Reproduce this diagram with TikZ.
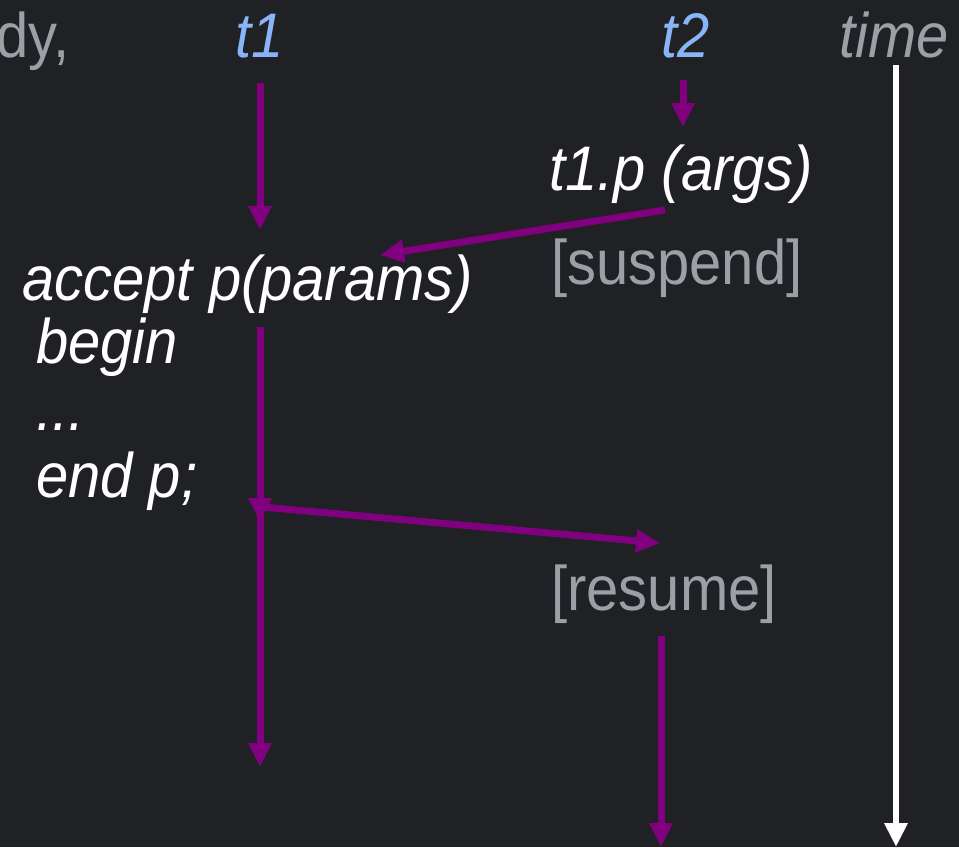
\documentclass[tikz,border=0pt]{standalone}
\usepackage{fontspec}
\setmainfont{Liberation Sans}[FakeStretch=0.92]
\usetikzlibrary{arrows.meta}
\definecolor{bgdark}{HTML}{202124}
\definecolor{softgray}{HTML}{9AA0A6}
\definecolor{threadblue}{HTML}{8AB4F8}
\definecolor{flowpurple}{HTML}{800080}
\tikzset{
  lbl/.style={inner sep=0pt, font=\fontsize{63}{66}\selectfont},
  code/.style={lbl, text=white, font=\fontsize{63}{66}\selectfont\itshape},
  thread/.style={lbl, text=threadblue, font=\fontsize{63}{66}\selectfont\itshape},
  note/.style={lbl, text=softgray},
  flow/.style={draw=flowpurple, line width=7pt, -{Triangle[length=24pt,width=22pt]}},
  timeline/.style={draw=white, line width=6.5pt, -{Triangle[length=24pt,width=22pt]}}
}
\begin{document}
\begin{tikzpicture}[x=1pt, y=-1pt]
  \fill[bgdark] (0,0) rectangle (959,847);
  \useasboundingbox (0,0) rectangle (959,847);

  % headings
  \node[note, anchor=base west] (prev) at (-4,57) {dy,};
  \node[thread, anchor=base] (t1) at (260,57) {t1};
  \node[thread, anchor=base] (t2) at (686,57) {t2};
  \node[note, anchor=base, font=\fontsize{63}{66}\selectfont\itshape] (time) at (894,57) {time};

  % caller side
  \node[code, anchor=base west] (call) at (549,190) {t1.p (args)};
  \node[note, anchor=base west] (susp) at (551,284) {[suspend]};
  \node[note, anchor=base west] (res) at (551,610) {[resume]};

  % accept body
  \node[code, anchor=base west] (acc) at (22,300) {accept p(params)};
  \node[code, anchor=base west] (beg) at (36,363) {begin};
  \node[code, anchor=base west] (dots) at (36,430) {...};
  \node[code, anchor=base west] (endp) at (36,497) {end p;};

  % connector end points
  \coordinate (t1a) at (260,83);
  \coordinate (t1b) at (260,230);
  \coordinate (t2a) at (683,80);
  \coordinate (t2b) at (683,127);
  \coordinate (ca) at (665,210);
  \coordinate (cb) at (380,255);
  \coordinate (m1) at (260,327);
  \coordinate (m2) at (260,522);
  \coordinate (l1) at (260,505);
  \coordinate (l2) at (260,767);
  \coordinate (ra) at (262,507);
  \coordinate (rb) at (660,543);
  \coordinate (r1) at (661,636);
  \coordinate (r2) at (661,847);
  \coordinate (ta) at (896,65);
  \coordinate (tb) at (896,847);

  % flows
  \draw[flow] (t1a) -- (t1b);
  \draw[flow] (t2a) -- (t2b);
  \draw[flow] (ca) -- (cb);
  \draw[flow] (m1) -- (m2);
  \draw[flow] (l1) -- (l2);
  \draw[flow] (ra) -- (rb);
  \draw[flow] (r1) -- (r2);
  \draw[timeline] (ta) -- (tb);
\end{tikzpicture}
\end{document}
